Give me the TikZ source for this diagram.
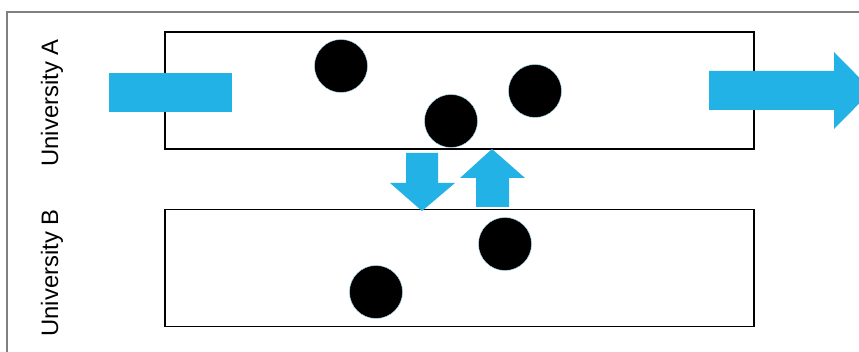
\documentclass[tikz,border=0pt]{standalone}
\usepackage{fontspec}
\setmainfont{Liberation Sans}
\usepackage{xcolor}
\usepackage{tikz}
\usetikzlibrary{
  positioning,
  calc
}
\definecolor{FlowBlue}{HTML}{23B2E6}
\definecolor{FrameGray}{HTML}{808080}

\begin{document}
\begin{tikzpicture}[
    x=1pt, y=-1pt,
    every node/.style={font=\fontsize{23.8}{26}\selectfont},
    unibox/.style={draw=black,line width=1.6pt,minimum width=589pt,minimum height=117pt,inner sep=0pt},
    student/.style={circle,fill=black,draw=FlowBlue!40,line width=0.4pt,minimum size=53pt,inner sep=0pt},
    flow/.style={fill=FlowBlue}
  ]
    \useasboundingbox (0,0) rectangle (859,352);
    \clip (0,0) rectangle (859,352);
    % outer frame
    \draw[FrameGray,line width=1.5pt] (7,360) -- (7,12) -- (870,12);
    % university lanes
    \node[unibox] (uniA) at (459.5,90.5) {};
    \node[unibox] (uniB) at (459.5,268) {};
    \node[rotate=90] (labA) at (52,103) {University A};
    \node[rotate=90] (labB) at (52,273) {University B};
    % students
    \foreach \x/\y/\name in {341/66/sa, 451/121/sb, 535/91/sc, 505/244/sd, 376/292/se}{
      \node[student] (\name) at (\x,\y) {};
    }
    % incoming and outgoing flows
    \fill[flow] (109,73) rectangle (232,112);
    \fill[flow] (709,71) -- (834,71) -- (834,52) -- (872,90.5)
      -- (834,129) -- (834,110) -- (709,110) -- cycle;
    % exchange between A and B
    \fill[flow] (406,153) -- (438,153) -- (438,183) -- (455,183)
      -- (422,211) -- (390,183) -- (406,183) -- cycle;
    \fill[flow] (476,207) -- (509,207) -- (509,178) -- (525,178)
      -- (492,149) -- (460,178) -- (476,178) -- cycle;
  \end{tikzpicture}
\end{document}
